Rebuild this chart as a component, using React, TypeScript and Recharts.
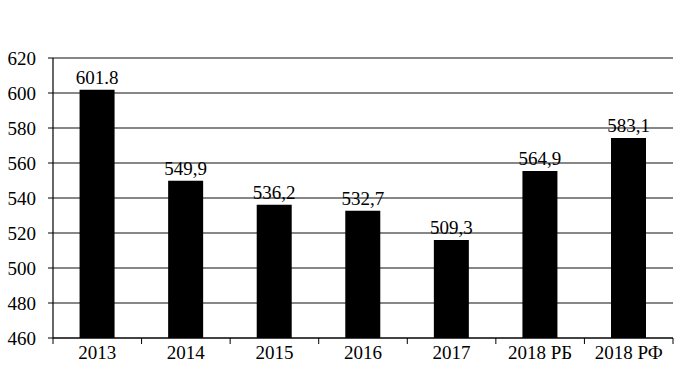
import { BarChart, Bar, XAxis, YAxis, CartesianGrid, LabelList } from "recharts";

const years = ["2013", "2014", "2015", "2016", "2017", "2018 РБ", "2018 РФ"];
// bar heights as drawn in the picture
const heights = [601.8, 549.9, 536.2, 532.7, 516, 555.4, 574.3];
// value labels as printed above the bars
const labels = ["601.8", "549,9", "536,2", "532,7", "509,3", "564,9", "583,1"];
const yTicks = [460, 480, 500, 520, 540, 560, 580, 600, 620];

const data = years.map((year, i) => ({ year, value: heights[i], label: labels[i] }));

const FONT = "'Liberation Serif', 'Times New Roman', serif";
const BAND = (673 - 53) / years.length;

function YearTick(props: any) {
  const { x, y, payload, index } = props;
  const left = x - BAND / 2;
  return (
    <g>
      <line x1={left} y1={y - 8} x2={left} y2={y - 2} stroke="#000" />
      {index === years.length - 1 && (
        <line x1={left + BAND} y1={y - 8} x2={left + BAND} y2={y - 2} stroke="#000" />
      )}
      <text x={x} y={y + 13} textAnchor="middle" fontSize={19} fontFamily={FONT} fill="#000">
        {payload.value}
      </text>
    </g>
  );
}

export default function App() {
  return (
    <div style={{ position: "absolute", left: 0, top: 0, background: "#fff" }}>
      <BarChart
        width={680}
        height={378}
        data={data}
        margin={{ top: 58, right: 7, bottom: 10, left: 0 }}
        barCategoryGap="30%"
      >
        <CartesianGrid horizontal vertical={false} stroke="#111" strokeWidth={1.2} />
        <XAxis
          dataKey="year"
          height={30}
          axisLine={{ stroke: "#000", strokeWidth: 1.2 }}
          tickLine={false}
          interval={0}
          tick={<YearTick />}
        />
        <YAxis
          width={53}
          domain={[460, 620]}
          ticks={yTicks}
          allowDataOverflow
          axisLine={{ stroke: "#000", strokeWidth: 1.2 }}
          tickLine={{ stroke: "#000" }}
          tickSize={5}
          tickMargin={12}
          tick={{ fontSize: 19, fontFamily: FONT, fill: "#000" }}
        />
        <Bar dataKey="value" fill="#000" isAnimationActive={false}>
          <LabelList dataKey="label" position="top" offset={6} fontSize={19} fontFamily={FONT} fill="#000" />
        </Bar>
      </BarChart>
    </div>
  );
}
